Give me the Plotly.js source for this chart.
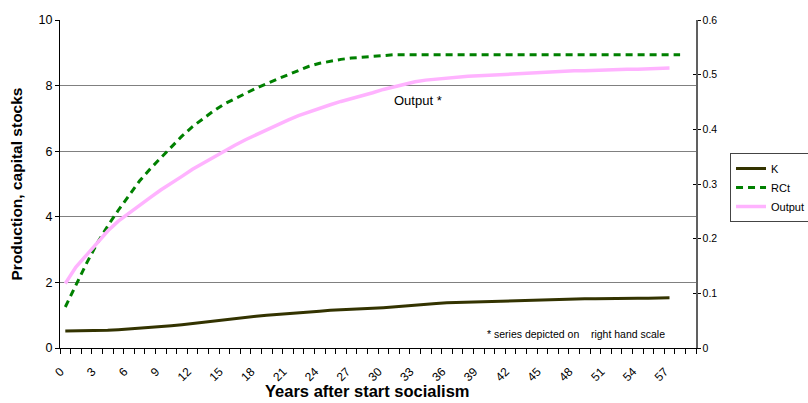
<!DOCTYPE html>
<html>
<head>
<meta charset="utf-8">
<script src="https://cdn.plot.ly/plotly-3.0.1.min.js"></script>
<style>html,body{margin:0;padding:0;background:#fff;}#chart{width:808px;height:403px;}</style>
</head>
<body>
<div id="chart"></div>
<script>
// Years after start socialism (category index)
var yearsK = [0,1,2,3,4,5,6,7,8,9,10,11,12,13,14,15,16,17,18,19,20,21,22,23,24,25,26,27,28,29,30,31,32,33,34,35,36,37,38,39,40,41,42,43,44,45,46,47,48,49,50,51,52,53,54,55,56,57];
var yearsRCt = [0,1,2,3,4,5,6,7,8,9,10,11,12,13,14,15,16,17,18,19,20,21,22,23,24,25,26,27,28,29,30,31,32,33,34,35,36,37,38,39,40,41,42,43,44,45,46,47,48,49,50,51,52,53,54,55,56,57,58];
var yearsOutput = yearsK;

// K (left scale)
var K = [0.52,0.52,0.53,0.53,0.54,0.56,0.58,0.60,0.62,0.65,0.68,0.71,0.75,0.79,0.83,0.86,0.90,0.93,0.97,1.00,
         1.02,1.05,1.07,1.10,1.12,1.15,1.16,1.17,1.19,1.21,1.23,1.26,1.28,1.31,1.33,1.36,1.38,1.39,1.41,1.42,
         1.43,1.44,1.45,1.46,1.47,1.47,1.48,1.49,1.49,1.50,1.50,1.51,1.51,1.52,1.52,1.52,1.53,1.53];
// RCt (left scale)
var RCt = [1.25,1.92,2.58,3.19,3.72,4.20,4.66,5.09,5.46,5.80,6.13,6.46,6.75,7.00,7.23,7.44,7.61,7.76,7.92,8.07,
           8.20,8.33,8.47,8.59,8.68,8.75,8.80,8.84,8.87,8.90,8.92,8.94,8.94,8.94,8.94,8.94,8.94,8.94,8.94,8.94,
           8.94,8.94,8.94,8.94,8.94,8.94,8.94,8.94,8.94,8.94,8.94,8.94,8.94,8.94,8.94,8.94,8.94,8.94,8.94];
// Output (right hand scale)
var Output = [0.118,0.148,0.170,0.192,0.214,0.232,0.247,0.261,0.275,0.289,0.301,0.314,0.327,0.338,0.350,0.361,0.371,0.381,0.390,0.400,
              0.409,0.417,0.425,0.432,0.439,0.445,0.451,0.456,0.462,0.467,0.473,0.478,0.483,0.487,0.490,0.492,0.494,0.496,0.497,0.498,
              0.499,0.500,0.502,0.503,0.504,0.505,0.505,0.506,0.507,0.507,0.508,0.509,0.509,0.510,0.510,0.511,0.511,0.512];

var xTickVals = [0,3,6,9,12,15,18,21,24,27,30,33,36,39,42,45,48,51,54,57];
var xTickText = ["0","3","6","9","12","15","18","21","24","27","30","33","36","39","42","45","48","51","54","57"];

var FONT = 'Liberation Sans, Arial, sans-serif';

var traces = [
  {x: yearsK, y: K, name: 'K', type: 'scatter', mode: 'lines',
   line: {color: '#333300', width: 3}},
  {x: yearsRCt, y: RCt, name: 'RCt', type: 'scatter', mode: 'lines',
   line: {color: '#008000', width: 3, dash: '7px,5px'}},
  {x: yearsOutput, y: Output, name: 'Output', type: 'scatter', mode: 'lines', yaxis: 'y2',
   line: {color: '#ffb3ff', width: 3.5}}
];

var layout = {
  width: 808, height: 403,
  margin: {l: 60, r: 112, t: 20, b: 55, autoexpand: false},
  paper_bgcolor: '#ffffff', plot_bgcolor: '#ffffff',
  font: {family: FONT, size: 11, color: '#000'},
  showlegend: true,
  legend: {x: 1.0535, y: 0.5945, xanchor: 'left', yanchor: 'top',
           bordercolor: '#444', borderwidth: 1, bgcolor: '#fff',
           font: {family: FONT, size: 11, color: '#000'},
           tracegroupgap: 0, itemwidth: 30},
  xaxis: {
    range: [-0.5, 59.5], tickmode: 'array',
    tickvals: xTickVals.map(function (v) { return v - 0.45; }), ticktext: xTickText,
    tickangle: -45, ticks: 'outside', ticklen: 11, tickcolor: 'rgba(0,0,0,0)',
    minor: {tick0: -0.5, dtick: 1, ticks: 'outside', ticklen: 5, tickcolor: '#000', showgrid: false},
    showline: true, linecolor: '#000', linewidth: 1, showgrid: false, zeroline: false,
    tickfont: {family: FONT, size: 12, color: '#000'}
  },
  yaxis: {
    range: [0, 10], dtick: 2, tick0: 0,
    showline: true, linecolor: '#000', linewidth: 1,
    ticks: 'outside', ticklen: 4, tickcolor: '#000',
    showgrid: true, gridcolor: '#808080', gridwidth: 1, zeroline: false,
    tickfont: {family: FONT, size: 12.5, color: '#000'},
    title: {text: 'Production, capital stocks', font: {family: FONT, size: 15.5, color: '#000', weight: 'bold'}, standoff: 12}
  },
  yaxis2: {
    range: [0, 0.6], dtick: 0.1, tick0: 0, overlaying: 'y', side: 'right', anchor: 'x',
    showline: true, linecolor: '#606060', linewidth: 1.5,
    ticks: 'outside', ticklen: 3, tickcolor: '#000',
    showgrid: false, zeroline: false,
    tickfont: {family: FONT, size: 10.5, color: '#000'}
  },
  yaxis3: {
    range: [0, 0.6], dtick: 0.1, tick0: 0, overlaying: 'y', side: 'right', anchor: 'x',
    showline: false, ticks: 'inside', ticklen: 3, tickcolor: '#000',
    showticklabels: false, showgrid: false, zeroline: false
  },
  annotations: [
    {x: 0.484, y: -0.131, xref: 'paper', yref: 'paper', text: '<b>Years after start socialism</b>', showarrow: false,
     font: {family: FONT, size: 16.5, color: '#000'}, xanchor: 'center', yanchor: 'middle'},
    {x: 33.3, y: 7.56, xref: 'x', yref: 'y', text: 'Output *', showarrow: false,
     font: {family: FONT, size: 13, color: '#000'}, xanchor: 'center', yanchor: 'middle'},
    {x: 0.954, y: 0.043, xref: 'paper', yref: 'paper', text: '* series depicted on&nbsp;&nbsp;&nbsp;&nbsp;right hand scale',
     showarrow: false, font: {family: FONT, size: 10.5, color: '#000'}, xanchor: 'right', yanchor: 'middle'}
  ]
};

// helper trace so the inner tick marks of the right axis are drawn (invisible, not in legend)
traces.push({x: [0], y: [0], yaxis: 'y3', type: 'scatter', mode: 'lines', showlegend: false, hoverinfo: 'skip', line: {color: 'rgba(0,0,0,0)'}});

Plotly.newPlot('chart', traces, layout, {displayModeBar: false, staticPlot: true});
</script>
</body>
</html>
